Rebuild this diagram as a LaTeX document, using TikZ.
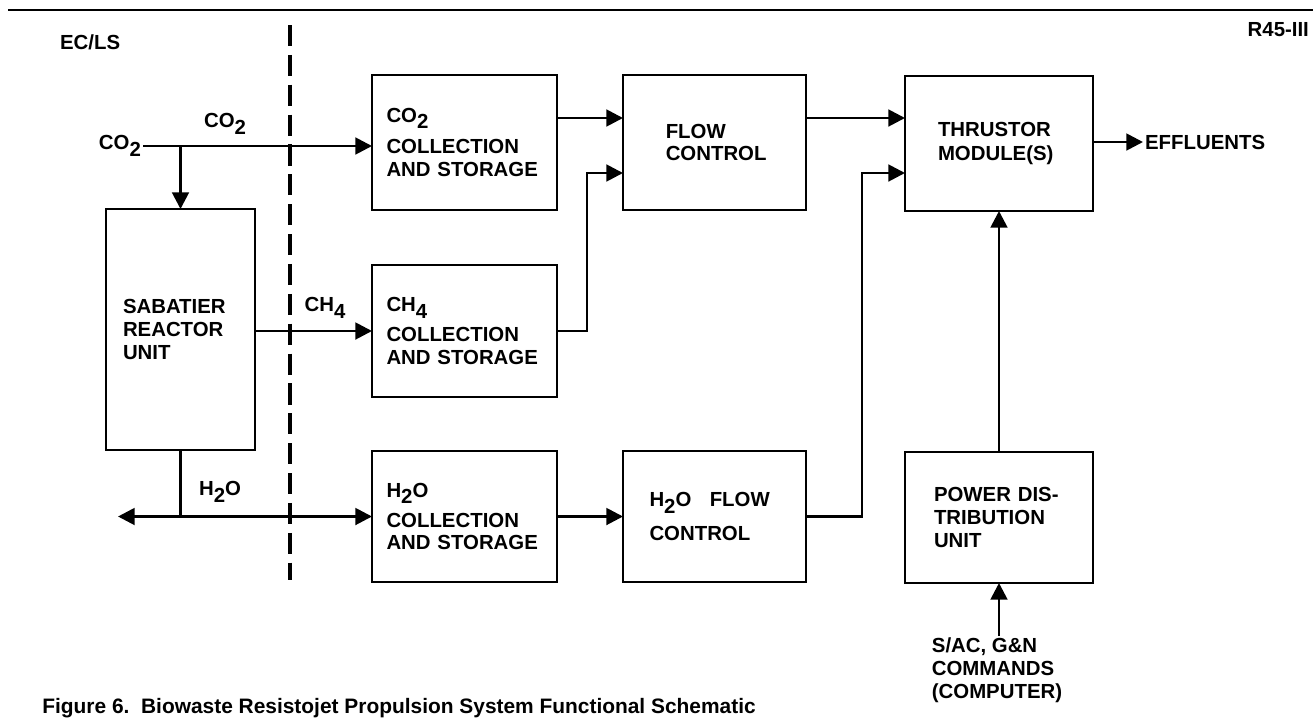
\documentclass[tikz,border=0pt]{standalone}
\usepackage{fontspec}
\setmainfont{Liberation Sans}
\usetikzlibrary{arrows.meta,positioning,calc}
\newcommand{\chemsub}[1]{\raisebox{-0.6ex}{#1}}

\begin{document}
\begin{tikzpicture}[x=0.02cm, y=-0.02cm,
  blk/.style={draw, line width=1.6pt, outer sep=0pt, align=left,
              text width=#1, font=\fontsize{11.6}{13}\selectfont\bfseries},
  lbl/.style={font=\fontsize{11.6}{13}\selectfont\bfseries, inner sep=1pt},
  arr/.style={-{Triangle[length=9.5pt,width=9.5pt]}, line width=1.6pt},
  wire/.style={line width=1.6pt}
]
\useasboundingbox (0,0) rectangle (1313,721);

% Header
\draw[line width=1.5pt] (8,10) -- (1313,10);
\node[lbl, anchor=west] (eclss) at (58,42) {EC/LS};
\node[lbl, anchor=east] (figno) at (1311,30) {R45-III};

% Interface line
\draw[line width=2pt, dash pattern=on 12pt off 5pt] (290,25) -- (290,580);

% EC/LS side
\node[blk=2.3cm, minimum width=2.98cm, minimum height=4.82cm] (sabatier)
  at (180.5,329.5) {SABATIER\\REACTOR\\UNIT};
\node[lbl, anchor=east] (co2in) at (143,146) {CO\chemsub{2}};
\coordinate (h2oout) at (118,516.5);

% Collection and storage
\node[blk=3.12cm, minimum width=3.7cm, minimum height=2.7cm] (co2store)
  at (464.5,142.5) {CO\chemsub{2}\\[5pt]COLLECTION\\AND STORAGE};
\node[blk=3.12cm, minimum width=3.7cm, minimum height=2.64cm] (ch4store)
  at (464.5,331) {CH\chemsub{4}\\[4pt]COLLECTION\\AND STORAGE};
\node[blk=3.12cm, minimum width=3.7cm, minimum height=2.62cm] (h2ostore)
  at (464.5,516.5) {H\chemsub{2}O\\[4pt]COLLECTION\\AND STORAGE};

% Flow control
\node[blk=1.95cm, minimum width=3.66cm, minimum height=2.7cm] (flowctl)
  at (714.5,142.5) {FLOW\\CONTROL};
\node[blk=2.6cm, minimum width=3.66cm, minimum height=2.62cm] (h2oflow)
  at (714.5,516.5) {H\chemsub{2}O\hspace{0.9em}FLOW\\[6pt]CONTROL};

% Thrustor and power
\node[blk=2.44cm, minimum width=3.76cm, minimum height=2.7cm] (thrustor)
  at (999,143.5) {THRUSTOR\\[1pt]MODULE(S)};
\node[blk=2.6cm, minimum width=3.76cm, minimum height=2.62cm] (powerdist)
  at (999,517.5) {POWER DIS-\\TRIBUTION\\UNIT};
\node[lbl, anchor=west] (effluents) at (1143,142) {EFFLUENTS};
\node[lbl, anchor=north, align=left] (cmds) at (997,636)
  {S/AC, G\&N\\COMMANDS\\(COMPUTER)};

% Line labels
\node[lbl] (lblco2) at (225,124) {CO\chemsub{2}};
\node[lbl] (lblch4) at (325,308) {CH\chemsub{4}};
\node[lbl] (lblh2o) at (220,492) {H\chemsub{2}O};

% Levels of the inputs
\coordinate (lvlA) at (0,118);
\coordinate (lvlB) at (587,173);
\coordinate (lvlC) at (862,173);

% CO2 feed
\draw[arr] (co2in.east) -- (co2in.east -| co2store.west);
\draw[arr] (co2in.east -| sabatier.north) -- (sabatier.north);

% CH4 and H2O out of the reactor
\draw[arr] (sabatier.east |- ch4store.west) -- (ch4store.west);
\draw[wire] (sabatier.south) -- (sabatier.south |- h2ostore.west);
\draw[line width=1.6pt, {Triangle[length=9.5pt,width=9.5pt]}-{Triangle[length=9.5pt,width=9.5pt]}]
  (h2oout) -- (h2ostore.west);

% Into flow control
\draw[arr] (co2store.east |- lvlA) -- (flowctl.west |- lvlA);
\draw[arr] (ch4store.east) -| (lvlB) -- (flowctl.west |- lvlB);
\draw[arr] (h2ostore.east) -- (h2oflow.west);

% Into the thrustor
\draw[arr] (flowctl.east |- lvlA) -- (thrustor.west |- lvlA);
\draw[arr] (h2oflow.east) -| (lvlC) -- (thrustor.west |- lvlC);
\draw[arr] (thrustor.east |- effluents.west) -- (effluents.west);
\draw[arr] (powerdist.north) -- (thrustor.south);
\draw[arr] (cmds.north -| powerdist.south) -- (powerdist.south);

% Caption
\node[anchor=west, inner sep=0pt, font=\fontsize{11.9}{15}\selectfont\bfseries]
  (caption) at (42,708)
  {Figure 6.\ \ Biowaste Resistojet Propulsion System Functional Schematic};

\end{tikzpicture}
\end{document}
